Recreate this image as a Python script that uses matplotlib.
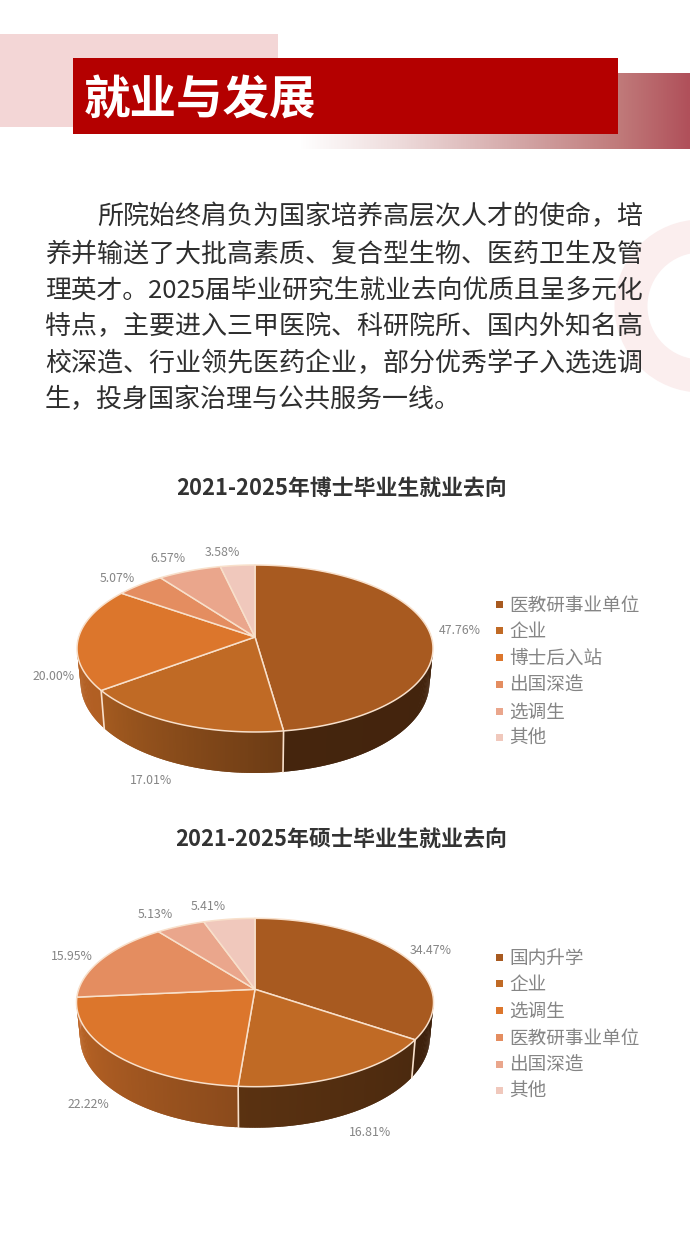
import numpy as np
import matplotlib
matplotlib.use("Agg")
import matplotlib.pyplot as plt
from matplotlib.colors import LinearSegmentedColormap, to_rgb
from matplotlib.patches import Circle, Polygon, Rectangle

plt.rcParams['font.family'] = ['Noto Sans CJK SC', 'DejaVu Sans']

# datos
titulo = "就业与发展"
parrafo = [
    "所院始终肩负为国家培养高层次人才的使命，培",
    "养并输送了大批高素质、复合型生物、医药卫生及管",
    "理英才。2025届毕业研究生就业去向优质且呈多元化",
    "特点，主要进入三甲医院、科研院所、国内外知名高",
    "校深造、行业领先医药企业，部分优秀学子入选选调",
    "生，投身国家治理与公共服务一线。",
]

titulo_boshi = "2021-2025年博士毕业生就业去向"
cats_boshi = ["医教研事业单位", "企业", "博士后入站", "出国深造", "选调生", "其他"]
vals_boshi = [47.76, 17.01, 20.00, 5.07, 6.57, 3.58]

titulo_shuoshi = "2021-2025年硕士毕业生就业去向"
cats_shuoshi = ["国内升学", "企业", "选调生", "医教研事业单位", "出国深造", "其他"]
vals_shuoshi = [34.47, 16.81, 22.22, 15.95, 5.13, 5.41]

colores = ["#a85a20", "#c06a25", "#dc762c", "#e48d60", "#eaa68c", "#f0c8bc"]
linea = "#f8e0cb"
gris = "#858585"

# sombra de la pared lateral por sector (inicio, fin)
sombra_boshi = [(0.38, 0.41), (0.56, 0.86), (0.80, 0.88), (0.9, 0.9), (0.9, 0.9), (0.9, 0.9)]
sombra_shuoshi = [(0.37, 0.37), (0.39, 0.47), (0.63, 0.88), (0.9, 0.9), (0.9, 0.9), (0.9, 0.9)]

pos_boshi = [(460, 631), (151, 781), (54, 676), (117, 579), (168, 558), (222, 552)]
pos_shuoshi = [(431, 951), (370, 1132), (88, 1105), (72, 957), (155, 915), (208, 906)]
ley_boshi = [604, 630, 657, 684, 711, 737]
ley_shuoshi = [957, 983, 1010, 1037, 1064, 1090]

fig = plt.figure(figsize=(6.9, 12.36), dpi=100)
ax = fig.add_axes([0, 0, 1, 1])
ax.set_xlim(0, 690)
ax.set_ylim(1236, 0)
ax.axis("off")


def px(n):
    """Convierte pixeles de la imagen a puntos de fuente"""
    return n * 72 / 100


def ajustar_ancho(t, ancho):
    """Ajusta el tamaño de fuente para que el texto ocupe ese ancho"""
    r = fig.canvas.get_renderer()
    w = t.get_window_extent(r).width
    t.set_fontsize(t.get_fontsize() * ancho / w)


def proyectar(ang, cx, cy, a, b, k):
    """Angulo horario desde arriba a pixeles con perspectiva"""
    X = np.sin(ang)
    Y = np.cos(ang)
    d = 1 + k * Y
    return cx + a * X / d, cy - b * Y / d, Y


def base(x, y, Y, cx):
    """Punto correspondiente en el borde inferior del cilindro"""
    return cx + 0.98 * (x - cx), y + 33 - 8 * Y


def pastel(vals, sombras, cx, cy, a, b, k):
    """Dibuja el pastel 3D a partir de los porcentajes"""
    acum = np.concatenate([[0], np.cumsum(vals)]) / np.sum(vals) * 2 * np.pi

    # paredes laterales (cada tira solapa con la siguiente para evitar costuras)
    for i in range(len(vals)):
        angs = np.linspace(acum[i], acum[i + 1], int(vals[i] * 5) + 2)
        col = np.array(to_rgb(colores[i]))
        for j in range(len(angs) - 1):
            x1, y1, Y1 = proyectar(angs[j], cx, cy, a, b, k)
            x2, y2, Y2 = proyectar(angs[min(j + 2, len(angs) - 1)], cx, cy, a, b, k)
            if Y1 > 0.3 and Y2 > 0.3:
                continue
            bx1, by1 = base(x1, y1, Y1, cx)
            bx2, by2 = base(x2, y2, Y2, cx)
            f = j / (len(angs) - 1)
            c = col * (sombras[i][0] + (sombras[i][1] - sombras[i][0]) * f)
            ax.add_patch(Polygon([(x1, y1), (x2, y2), (bx2, by2), (bx1, by1)],
                                 facecolor=c, edgecolor="none", zorder=2))

    # separadores de la pared
    for ang in acum[:-1]:
        x, y, Y = proyectar(ang, cx, cy, a, b, k)
        if Y < -0.3:
            bx, by = base(x, y, Y, cx)
            ax.plot([x, bx], [y, by], color=linea, lw=1.2, zorder=3)

    # cara superior
    for i in range(len(vals)):
        angs = np.linspace(acum[i], acum[i + 1], int(vals[i] * 5) + 2)
        x, y, _ = proyectar(angs, cx, cy, a, b, k)
        pts = [(cx, cy)] + list(zip(x, y))
        ax.add_patch(Polygon(pts, closed=True, facecolor=colores[i], edgecolor=linea,
                             lw=1.1, joinstyle="round", zorder=4))


def etiquetas(vals, pos):
    for v, (x, y) in zip(vals, pos):
        ax.text(x, y, f"{v:.2f}%", color=gris, fontsize=px(12.3), ha="center", va="center", zorder=6)


def leyenda(cats, ys):
    for i, (c, y) in enumerate(zip(cats, ys)):
        ax.add_patch(Rectangle((496, y - 3.5), 7, 7, facecolor=colores[i], edgecolor="none", zorder=6))
        ax.text(509, y + 2, c, color=gris, fontsize=px(18.6), ha="left", va="center", zorder=6)


# ========================================
# Encabezado
# ========================================
ax.add_patch(Rectangle((0, 34), 278, 93, facecolor="#f3d6d6", edgecolor="none", zorder=1))
cmap = LinearSegmentedColormap.from_list(
    "banda", [(0, "#ffffff"), (0.25, "#eedcdc"), (0.6, "#d0a0a0"), (0.82, "#c07a7a"), (1, "#b0505a")])
ax.imshow(np.linspace(0, 1, 256).reshape(1, -1), cmap=cmap, extent=(300, 690, 149, 73),
          aspect="auto", zorder=1)
ax.set_xlim(0, 690)
ax.set_ylim(1236, 0)
ax.add_patch(Rectangle((73, 58), 545, 76, facecolor="#b40000", edgecolor="none", zorder=2))
t = ax.text(84, 101, titulo, color="white", fontsize=px(46.5), fontweight="bold",
            ha="left", va="center", zorder=3)

# circulo decorativo
ax.add_patch(Circle((701, 306), 70, facecolor="none", edgecolor="#fbeeee", lw=px(33), zorder=0))

# ========================================
# Parrafo
# ========================================
ys_parrafo = [217, 254, 291, 327, 364, 400]
for i, (s, y) in enumerate(zip(parrafo, ys_parrafo)):
    x0 = 97 if i == 0 else 45
    t = ax.text(x0, y, s, color="#2e2e2e", fontsize=px(26), ha="left", va="center", zorder=5)
    if i < 5:
        ajustar_ancho(t, 643 - x0)

# ========================================
# Graficos
# ========================================
t = ax.text(341.5, 488.5, titulo_boshi, color="#333333", fontsize=px(22), fontweight="bold",
            ha="center", va="center", zorder=5)
ajustar_ancho(t, 330)
pastel(vals_boshi, sombra_boshi, 255, 637, 176.3, 81.9, 0.1377)
etiquetas(vals_boshi, pos_boshi)
leyenda(cats_boshi, ley_boshi)

t = ax.text(341, 840.5, titulo_shuoshi, color="#333333", fontsize=px(22), fontweight="bold",
            ha="center", va="center", zorder=5)
ajustar_ancho(t, 332)
pastel(vals_shuoshi, sombra_shuoshi, 255, 989.3, 176.3, 82.1, 0.157)
etiquetas(vals_shuoshi, pos_shuoshi)
leyenda(cats_shuoshi, ley_shuoshi)

fig.savefig("out.png", dpi=100, facecolor="white")
